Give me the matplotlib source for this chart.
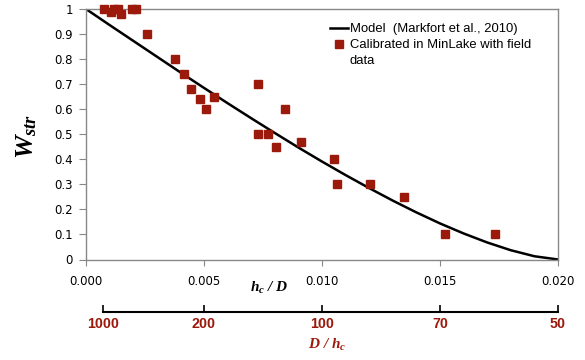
import matplotlib
matplotlib.use("Agg")
import matplotlib.pyplot as plt
from matplotlib.lines import Line2D

plt.rcParams['mathtext.fontset'] = 'custom'
plt.rcParams['mathtext.it'] = 'Liberation Serif:italic:bold'
plt.rcParams['mathtext.rm'] = 'Liberation Serif:italic:bold'

# model curve (Markfort et al., 2010)
model_x = [0.000, 0.001, 0.002, 0.003, 0.004, 0.005, 0.006, 0.007, 0.008, 0.009, 0.010,
           0.011, 0.012, 0.013, 0.014, 0.015, 0.016, 0.017, 0.018, 0.019, 0.020]
model_w = [1.000, 0.936, 0.873, 0.810, 0.747, 0.685, 0.624, 0.564, 0.505, 0.447, 0.391,
           0.337, 0.285, 0.235, 0.188, 0.144, 0.104, 0.068, 0.037, 0.013, 0.000]

# calibrated points (MinLake with field data)
calib_x = [0.00077, 0.00104, 0.00120, 0.00137, 0.00147, 0.00193, 0.00210, 0.00258,
           0.00379, 0.00416, 0.00447, 0.00482, 0.00507, 0.00542, 0.00728, 0.00844,
           0.00728, 0.00773, 0.00803, 0.00909, 0.01051, 0.01062, 0.01205, 0.01347,
           0.01522, 0.01734]
calib_w = [1.00, 0.99, 1.00, 1.00, 0.98, 1.00, 1.00, 0.90,
           0.80, 0.74, 0.68, 0.64, 0.60, 0.65, 0.70, 0.60,
           0.50, 0.50, 0.45, 0.47, 0.40, 0.30, 0.30, 0.25,
           0.10, 0.10]

x_ticks = [0.000, 0.005, 0.010, 0.015, 0.020]
y_ticks = [0, 0.1, 0.2, 0.3, 0.4, 0.5, 0.6, 0.7, 0.8, 0.9, 1]
y_labels = ['0', '0.1', '0.2', '0.3', '0.4', '0.5', '0.6', '0.7', '0.8', '0.9', '1']

# second scale D / hc under the main axis
sec_ticks = [0.00073, 0.005, 0.010, 0.015, 0.020]
sec_labels = ['1000', '200', '100', '70', '50']

red = '#9C1A0C'
gray = '#888888'
W, H = 585, 360

fig = plt.figure(figsize=(5.85, 3.6), dpi=100)
ax = fig.add_axes([86 / W, 1 - 259.5 / H, 472 / W, 250.5 / H])

line, = ax.plot(model_x, model_w, color='black', lw=1.8)
pts, = ax.plot(calib_x, calib_w, ls='none', marker='s', ms=5.3, color=red, clip_on=False, zorder=3)

ax.set_xlim(0, 0.02)
ax.set_ylim(0, 1)
ax.set_xticks(x_ticks)
ax.set_xticklabels(['%.3f' % v for v in x_ticks])
ax.set_yticks(y_ticks)
ax.set_yticklabels(y_labels)
for s in ax.spines.values():
    s.set_color(gray)
    s.set_linewidth(1.0)
ax.tick_params(axis='x', direction='out', length=4, color=gray, labelsize=8.5, pad=7.5)
ax.tick_params(axis='y', direction='out', length=5, color=gray, labelsize=8.5, pad=4.5)

handles = [line, pts, Line2D([], [], ls='none')]
labels = ['Model  (Markfort et al., 2010)', 'Calibrated in MinLake with field', 'data']
ax.legend(handles, labels, loc='upper left', bbox_to_anchor=(330 / W, 1 - 23 / H),
          bbox_transform=fig.transFigure, frameon=False,
          prop={'family': 'Liberation Sans', 'size': 9.4},
          handlelength=1.4, handletextpad=0.1, labelspacing=0.3,
          borderpad=0, borderaxespad=0)

# secondary axis
ax2 = fig.add_axes([86 / W, 1 - 311.7 / H, 472 / W, 0.001])
ax2.set_xlim(0, 0.02)
ax2.patch.set_visible(False)
for k in ['top', 'left', 'right']:
    ax2.spines[k].set_visible(False)
ax2.spines['bottom'].set_bounds(sec_ticks[0], sec_ticks[-1])
ax2.spines['bottom'].set_linewidth(1.5)
ax2.set_yticks([])
ax2.set_xticks(sec_ticks)
ax2.set_xticklabels(sec_labels, color=red, fontweight='bold', family='Liberation Sans', fontsize=10.3)
ax2.tick_params(axis='x', direction='in', length=5, width=1.2, pad=4)

fig.text(269 / W, 1 - 288 / H, r'$h_c\ /\ D$', ha='center', va='center', fontsize=11)
fig.text(327 / W, 1 - 345 / H, r'$D\ /\ h_c$', ha='center', va='center', fontsize=11, color=red)
fig.text(26 / W, 1 - 136 / H, r'$W_{str}$', ha='center', va='center', fontsize=19, rotation=90)

fig.savefig('out.png', dpi=100)
